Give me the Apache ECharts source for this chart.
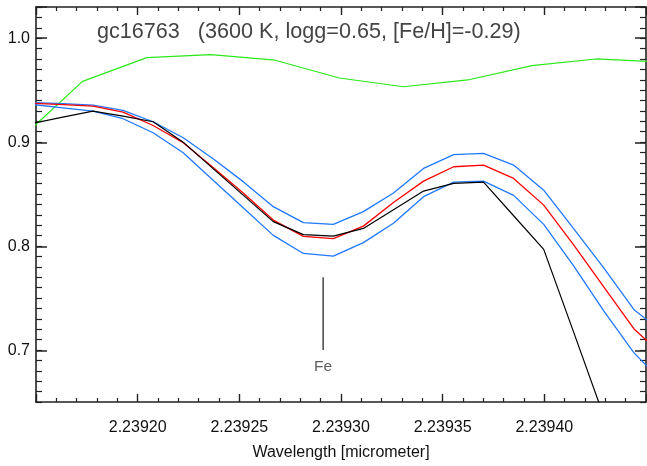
<!DOCTYPE html>
<html>
<head>
<meta charset="utf-8">
<script src="https://cdn.jsdelivr.net/npm/echarts@6/dist/echarts.min.js"></script>
<style>
html,body{margin:0;padding:0;background:#fff;}
#c{width:647px;height:466px;}
</style>
</head>
<body>
<div id="c"></div>
<script>
// model wavelength grid (micrometer)
var modelWave = [2.2391484, 2.2391632, 2.2391780, 2.2391928, 2.2392076, 2.2392224, 2.2392371, 2.2392519, 2.2392667, 2.2392815, 2.2392962, 2.2393110, 2.2393258, 2.2393406, 2.2393554, 2.2393701, 2.2393849, 2.2393997, 2.2394145, 2.2394293, 2.2394440, 2.2394588];
var observed  = [0.9181, 0.924, 0.9298, 0.925, 0.9196, 0.900, 0.8745, 0.849, 0.8235, 0.811, 0.8096, 0.817, 0.835, 0.8529, 0.8603, 0.8616, 0.8292, 0.7968, 0.7167, 0.636, 0.556, 0.48];
var bestModel = [0.9374, 0.936, 0.9346, 0.9288, 0.916, 0.8994, 0.8756, 0.851, 0.825, 0.8093, 0.8071, 0.8192, 0.842, 0.8625, 0.8763, 0.8779, 0.8651, 0.8394, 0.801, 0.7606, 0.7205, 0.6939];
var upperModel = [0.938, 0.937, 0.9356, 0.9305, 0.9196, 0.9042, 0.884, 0.862, 0.8379, 0.8225, 0.8209, 0.8331, 0.851, 0.8747, 0.8879, 0.8891, 0.8779, 0.8538, 0.8165, 0.7787, 0.7391, 0.7159];
var lowerModel = [0.9362, 0.933, 0.9298, 0.9225, 0.909, 0.8898, 0.8633, 0.8368, 0.8103, 0.7929, 0.7904, 0.8033, 0.822, 0.8475, 0.8616, 0.8625, 0.8488, 0.8209, 0.7807, 0.7375, 0.6975, 0.668];
// telluric (green) spectrum
var tellWave = [2.2391413, 2.2391729, 2.2392045, 2.2392360, 2.2392676, 2.2392992, 2.2393307, 2.2393623, 2.2393939, 2.2394254, 2.2394570];
var tellFlux = [0.9013, 0.9585, 0.9813, 0.9842, 0.9788, 0.9617, 0.9533, 0.9598, 0.9736, 0.980, 0.9771];
// line identification
var feWave = 2.2392912;
var feMark = [0.77, 0.70];
var feLabelY = 0.6835;
var feText = 'Fe';
var titleText = 'gc16763   (3600 K, logg=0.65, [Fe/H]=-0.29)';
var xName = 'Wavelength [micrometer]';
var xRange = [2.23915, 2.23945];
var yRange = [0.65, 1.03];
var yMajorStart = 0.7;

function pairs(xs, ys){ return xs.map(function(x,i){ return [x, ys[i]]; }); }

var W = 647, H = 466;
var gTop = 7, gBottom = 63.3, gLeft = 36, gRight = 1;
var plotH = H - gTop - gBottom;
var g1Bottom = gBottom + plotH * (yMajorStart - yRange[0]) / (yRange[1] - yRange[0]);

var FONT = '"Liberation Sans", Arial, Helvetica, sans-serif';
var AX = '#222';

var chart = echarts.init(document.getElementById('c'), null, {renderer:'canvas', width:W, height:H});

function xAx(grid, pos, labels){
  return {
    type:'value', gridIndex:grid, position:pos, min:xRange[0], max:xRange[1], interval:0.00005,
    axisLine:{show:true, onZero:false, lineStyle:{color:AX, width:1.6}},
    axisTick:{show:true, inside:true, length:8, lineStyle:{color:AX, width:1.4}},
    minorTick:{show:true, splitNumber:5, length:4, lineStyle:{color:AX, width:1.2}},
    splitLine:{show:false}, minorSplitLine:{show:false},
    axisLabel:{show:labels, showMinLabel:false, showMaxLabel:false, fontSize:16, fontFamily:FONT, color:'#111', margin:18,
      formatter:function(v){ return v.toFixed(5); }},
    name: labels ? xName : '', nameLocation:'middle', nameGap:43,
    nameTextStyle:{fontSize:16, fontFamily:FONT, color:'#111'}
  };
}
function yMinor(pos){
  return {
    type:'value', gridIndex:0, position:pos, min:yRange[0], max:yRange[1], interval:0.01,
    axisLine:{show:true, onZero:false, lineStyle:{color:AX, width:1.6}},
    axisTick:{show:true, inside:true, length:6, lineStyle:{color:AX, width:1.2}},
    axisLabel:{show:false}, splitLine:{show:false}
  };
}
function yMajor(pos, labels){
  return {
    type:'value', gridIndex:1, position:pos, min:yMajorStart, max:yRange[1], interval:0.1,
    axisLine:{show:false},
    axisTick:{show:true, inside:true, length:11, lineStyle:{color:AX, width:1.5}},
    axisLabel:{show:labels, fontSize:16, fontFamily:FONT, color:'#111', margin:6,
      formatter:function(v){ return Math.abs(v*10 - Math.round(v*10)) < 1e-6 ? v.toFixed(1) : ''; }},
    splitLine:{show:false}
  };
}

function lineSeries(name, data, color, w){
  return {name:name, type:'line', xAxisIndex:0, yAxisIndex:0, data:data, showSymbol:false, symbol:'none',
    clip:true, lineStyle:{color:color, width:w}, itemStyle:{color:color}, animation:false, silent:true, z:2};
}

chart.setOption({
  animation:false,
  backgroundColor:'#fff',
  grid:[
    {left:gLeft, right:gRight, top:gTop, bottom:gBottom},
    {left:gLeft, right:gRight, top:gTop, bottom:g1Bottom}
  ],
  xAxis:[ xAx(0,'bottom',true), xAx(0,'top',false),
    {type:'value', gridIndex:1, min:xRange[0], max:xRange[1], show:false} ],
  yAxis:[ yMinor('left'), yMinor('right'), yMajor('left', true), yMajor('right', false) ],
  graphic:[{type:'text', x:97, y:32, style:{text:titleText, font:'21.6px ' + FONT, fill:'#444', verticalAlign:'middle', align:'left'}}],
  series:[
    lineSeries('telluric', pairs(tellWave, tellFlux), '#2be81a', 1.2),
    lineSeries('lower', pairs(modelWave, lowerModel), '#1f78ff', 1.3),
    lineSeries('upper', pairs(modelWave, upperModel), '#1f78ff', 1.3),
    lineSeries('best', pairs(modelWave, bestModel), '#ff0000', 1.3),
    lineSeries('observed', pairs(modelWave, observed), '#000000', 1.2),
    lineSeries('Fe mark', [[feWave, feMark[0]], [feWave, feMark[1]]], '#000000', 1.1),
    {name:'Fe label', type:'scatter', xAxisIndex:0, yAxisIndex:0, data:[[feWave, feLabelY]], symbolSize:1,
      itemStyle:{color:'rgba(0,0,0,0)'}, animation:false, silent:true,
      label:{show:true, position:'inside', formatter:feText, fontSize:15.5, fontFamily:FONT, color:'#333'}}
  ]
});
</script>
</body>
</html>
